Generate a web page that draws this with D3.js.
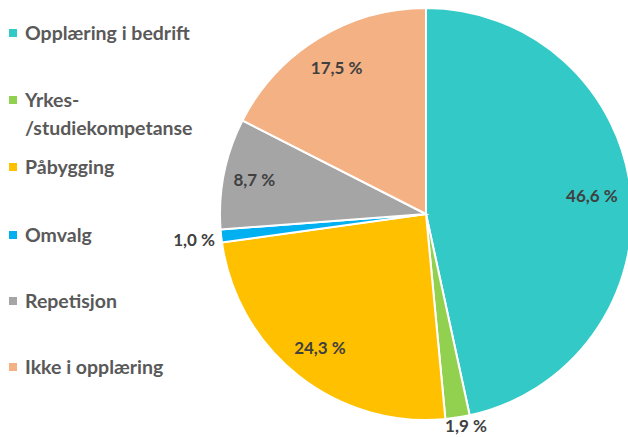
<!DOCTYPE html>
<html><head><meta charset="utf-8">
<script src="https://cdn.jsdelivr.net/npm/d3@7"></script>
<style>body{margin:0;background:#fff;}svg{display:block;font-family:Lato,"Open Sans",sans-serif;}</style>
</head><body><svg id="c" width="628" height="437"></svg>
<script>
const categories = ["Opplæring i bedrift","Yrkes-/studiekompetanse","Påbygging","Omvalg","Repetisjon","Ikke i opplæring"];
const legendLines = [["Opplæring i bedrift"],["Yrkes-","/studiekompetanse"],["Påbygging"],["Omvalg"],["Repetisjon"],["Ikke i opplæring"]];
const values = [46.6, 1.9, 24.3, 1.0, 8.7, 17.5];
const labels = ["46,6 %","1,9 %","24,3 %","1,0 %","8,7 %","17,5 %"];
const colors = ["#33C9C6","#92D050","#FFC000","#00B0F0","#A5A5A5","#F4B183"];

const svg = d3.select("#c");
const cx = 426, cy = 214, R = 206;
const pie = d3.pie().sort(null).value(d => d)(values);
const arc = d3.arc().innerRadius(0).outerRadius(R);
const g = svg.append("g").attr("transform", `translate(${cx},${cy})`);
g.selectAll("path").data(pie).join("path")
  .attr("d", arc).attr("fill", (d,i) => colors[i])
  .attr("stroke", "#fff").attr("stroke-width", 2);

// label placement: inside for large slices, outside for small
const labelR = [0.81, 1.07, 0.83, 1.0, 0.85, 0.83];
g.selectAll("text.lab").data(pie).join("text")
  .attr("class","lab")
  .each(function(d,i){
    const a = (d.startAngle + d.endAngle)/2;
    const r = R*labelR[i];
    let x = r*Math.sin(a), y = -r*Math.cos(a);
    const t = d3.select(this);
    if (i === 3) { x = -R - 5; y = 26; t.attr("text-anchor","end"); }
    else t.attr("text-anchor","middle");
    if (i === 1) { y = 212; x = 40; }
    t.attr("x", x).attr("y", y).attr("dy","0.35em");
  })
  .attr("font-size", 17).attr("font-weight", 700).attr("fill", "#404040")
  .text((d,i) => labels[i]);

// legend
const legY = [33, 100, 167, 235, 301, 367];
const lg = svg.append("g");
categories.forEach((c,i) => {
  lg.append("rect").attr("x", 9).attr("y", legY[i]-4).attr("width", 8).attr("height", 8).attr("fill", colors[i]);
  const t = lg.append("text").attr("x", 25).attr("y", legY[i])
    .attr("font-size", 19.5).attr("font-weight", 700).attr("fill", "#595959");
  legendLines[i].forEach((l,j) => t.append("tspan").attr("x", 25).attr("dy", j===0 ? "0.35em" : 28).text(l));
});
</script></body></html>
